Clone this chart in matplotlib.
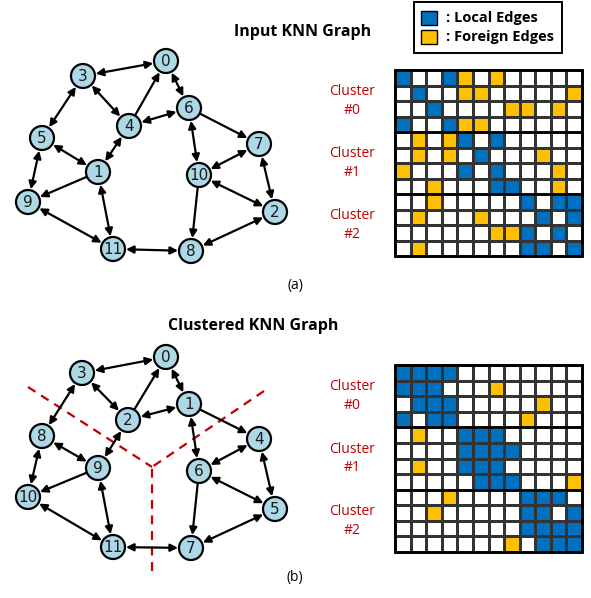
import numpy as np
import matplotlib.pyplot as plt
from matplotlib.colors import ListedColormap
from matplotlib.patches import Circle, Rectangle

# node positions (pixel space) for the two graphs
top_nodes = {0: (166, 61), 3: (83, 76), 6: (189, 108), 4: (129, 126), 5: (42, 138),
             7: (259, 144), 1: (98, 172), 10: (199, 175), 9: (28, 202), 2: (275, 212),
             11: (113, 249), 8: (191, 251)}
bot_nodes = {0: (166, 357), 3: (82, 373), 1: (189, 404), 2: (128, 420), 8: (42, 436),
             4: (259, 439), 9: (98, 468), 6: (199, 471), 10: (28, 497), 5: (275, 509),
             11: (113, 547), 7: (191, 548)}

# (a, b, bidirectional)
top_edges = [(3, 0, True), (0, 6, True), (3, 4, True), (4, 0, False), (4, 6, True),
             (3, 5, True), (5, 1, True), (4, 1, True), (1, 9, False), (5, 9, True),
             (1, 11, True), (9, 11, True), (6, 7, False), (6, 10, True), (7, 10, True),
             (7, 2, True), (10, 2, True), (10, 8, False), (2, 8, True), (11, 8, True)]
bot_edges = [(3, 0, True), (0, 1, True), (3, 2, True), (2, 0, False), (2, 1, True),
             (3, 8, True), (8, 9, True), (2, 9, True), (1, 4, False), (1, 6, True),
             (4, 6, True), (4, 5, True), (6, 5, True), (6, 7, False), (9, 10, False),
             (8, 10, True), (9, 11, True), (10, 11, True), (11, 7, True), (5, 7, True)]

# adjacency matrices: 0 = none, 1 = local edge, 2 = foreign edge
input_adj = np.array([
    [1, 0, 0, 1, 2, 0, 2, 0, 0, 0, 0, 0],
    [0, 1, 0, 0, 2, 2, 0, 0, 0, 0, 0, 2],
    [0, 0, 1, 0, 0, 0, 0, 2, 2, 0, 2, 0],
    [1, 0, 0, 1, 2, 2, 0, 0, 0, 0, 0, 0],
    [0, 2, 0, 2, 1, 0, 1, 0, 0, 0, 0, 0],
    [0, 2, 0, 2, 0, 1, 0, 0, 0, 2, 0, 0],
    [2, 0, 0, 0, 1, 0, 1, 0, 0, 0, 2, 0],
    [0, 0, 2, 0, 0, 0, 1, 1, 0, 0, 2, 0],
    [0, 0, 2, 0, 0, 0, 0, 0, 1, 0, 1, 1],
    [0, 2, 0, 0, 0, 2, 0, 0, 0, 1, 0, 1],
    [0, 0, 0, 0, 0, 0, 2, 2, 1, 0, 1, 0],
    [0, 2, 0, 0, 0, 0, 0, 0, 1, 1, 0, 1]])
clustered_adj = np.array([
    [1, 1, 1, 1, 0, 0, 0, 0, 0, 0, 0, 0],
    [1, 1, 1, 0, 0, 0, 2, 0, 0, 0, 0, 0],
    [0, 1, 1, 1, 0, 0, 0, 0, 0, 2, 0, 0],
    [1, 0, 1, 1, 0, 0, 0, 0, 2, 0, 0, 0],
    [0, 2, 0, 0, 1, 1, 1, 0, 0, 0, 0, 0],
    [0, 0, 0, 0, 1, 1, 1, 1, 0, 0, 0, 0],
    [0, 2, 0, 0, 1, 1, 1, 0, 0, 0, 0, 0],
    [0, 0, 0, 0, 0, 1, 1, 1, 0, 0, 0, 2],
    [0, 0, 0, 2, 0, 0, 0, 0, 1, 1, 1, 0],
    [0, 0, 2, 0, 0, 0, 0, 0, 1, 1, 0, 1],
    [0, 0, 0, 0, 0, 0, 0, 0, 1, 1, 1, 1],
    [0, 0, 0, 0, 0, 0, 0, 2, 0, 1, 1, 1]])

cluster_names = ['Cluster\n#0', 'Cluster\n#1', 'Cluster\n#2']

BLUE = '#0070C0'
YELLOW = '#FFC000'
RED = '#C00000'
NODE = '#ADD8E6'
R = 12
txt_font = ['Open Sans', 'DejaVu Sans']

fig = plt.figure(figsize=(5.91, 5.98), dpi=100)
ax = fig.add_axes([0, 0, 1, 1])
ax.set_xlim(0, 591)
ax.set_ylim(598, 0)
ax.axis('off')


def draw_graph(nodes, edges):
    for a, b, both in edges:
        p, q = np.array(nodes[a], float), np.array(nodes[b], float)
        d = (q - p) / np.linalg.norm(q - p)
        start, end = p + d * (R + 1), q - d * (R + 1)
        style = '<|-|>' if both else '-|>'
        ax.annotate('', xy=end, xytext=start,
                    arrowprops=dict(arrowstyle=style, color='black', lw=1.6,
                                    mutation_scale=11, shrinkA=0, shrinkB=0))
    for n, (x, y) in nodes.items():
        ax.add_patch(Circle((x, y), R, facecolor=NODE, edgecolor='black', lw=1.6, zorder=3))
        ax.text(x, y + 0.5, str(n), ha='center', va='center', fontsize=11,
                color='#1a1a1a', zorder=4)


def draw_matrix(adj, x0, y0, x1, y1):
    xs = np.linspace(x0, x1, 13)
    ys = np.linspace(y0, y1, 13)
    cmap = ListedColormap(['white', BLUE, YELLOW])
    ax.pcolormesh(xs, ys, adj, cmap=cmap, vmin=0, vmax=2,
                  edgecolors='#333333', linewidth=0.9)
    for k in (4, 8):
        ax.plot([x0, x1], [ys[k], ys[k]], color='black', lw=1.8)
    ax.add_patch(Rectangle((x0, y0), x1 - x0, y1 - y0, fill=False,
                           edgecolor='black', lw=2))
    for i, name in enumerate(cluster_names):
        yc = (ys[4 * i] + ys[4 * i + 4]) / 2
        ax.text(352, yc, name, ha='center', va='center', color=RED,
                fontsize=10, family=txt_font, linespacing=1.35)


draw_graph(top_nodes, top_edges)
draw_graph(bot_nodes, bot_edges)

# partition boundaries of the clustered graph
cx, cy = 152, 467
for (x, y) in [(28, 387), (264, 391), (152, 571)]:
    ax.plot([x, cx], [y, cy], color=RED, lw=1.6, dashes=(4, 3))

draw_matrix(input_adj, 395, 70, 582, 256)
draw_matrix(clustered_adj, 395, 365, 582, 552)

ax.text(303, 32, 'Input KNN Graph', ha='center', va='center', fontsize=11.5,
        fontweight='bold', family=txt_font)
ax.text(253, 326, 'Clustered KNN Graph', ha='center', va='center', fontsize=11.5,
        fontweight='bold', family=txt_font)
ax.text(295, 286, '(a)', ha='center', va='center', fontsize=10, family=txt_font)
ax.text(295, 578, '(b)', ha='center', va='center', fontsize=10, family=txt_font)

# legend box
ax.add_patch(Rectangle((414, 2), 148, 51, fill=False, edgecolor='black', lw=1.4))
ax.add_patch(Rectangle((421, 11), 16, 14, facecolor=BLUE, edgecolor='black', lw=1))
ax.add_patch(Rectangle((421, 30), 16, 14, facecolor=YELLOW, edgecolor='black', lw=1))
ax.text(446, 18, ': Local Edges', ha='left', va='center', fontsize=10.5,
        fontweight='bold', family=txt_font)
ax.text(446, 37, ': Foreign Edges', ha='left', va='center', fontsize=10.5,
        fontweight='bold', family=txt_font)

fig.savefig('out.png', dpi=100)
